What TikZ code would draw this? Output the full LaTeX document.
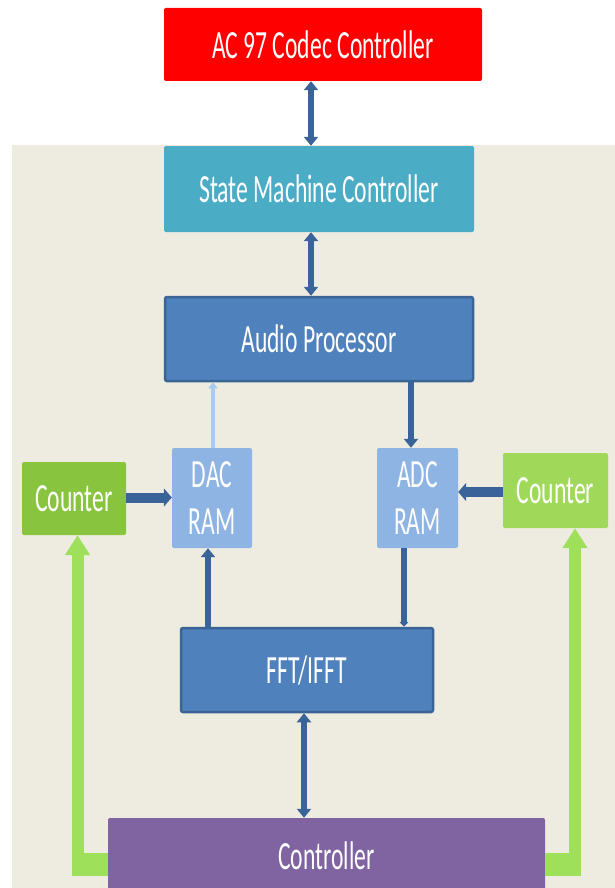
\documentclass[tikz,border=0pt]{standalone}
\usepackage{fontspec}
\newfontfamily\dfont{Carlito}[FakeStretch=0.59]
\usetikzlibrary{arrows.meta}
\definecolor{beige}{HTML}{EEECE1}
\definecolor{redc}{HTML}{FF0000}
\definecolor{smcc}{HTML}{4BACC6}
\definecolor{apc}{HTML}{4F81BD}
\definecolor{apb}{HTML}{3A6495}
\definecolor{ramc}{HTML}{8DB4E2}
\definecolor{cntl}{HTML}{88C43E}
\definecolor{cntr}{HTML}{A0D95A}
\definecolor{gline}{HTML}{9EE05A}
\definecolor{ctrlc}{HTML}{8064A2}
\definecolor{arrc}{HTML}{3A6399}
\definecolor{lblue}{HTML}{A8CAF0}
\tikzset{
  blk/.style={rectangle, inner sep=0pt, rounded corners=2pt, text=white,
    font=\dfont\fontsize{40}{47}\selectfont, align=center},
  barrow/.style={draw=arrc, line width=5.5pt},
  bhead/.style={-{Triangle[width=14pt,length=9pt]}},
  bboth/.style={{Triangle[width=14pt,length=9pt]}-{Triangle[width=14pt,length=9pt]}},
  harrow/.style={draw=arrc, line width=10pt, -{Triangle[width=18pt,length=8pt]}},
  garrow/.style={draw=gline, line width=12pt, -{Triangle[width=24pt,length=20pt]}},
}
\begin{document}
\begin{tikzpicture}[x=1pt,y=-1pt]
\useasboundingbox (0,0) rectangle (615,888);
\clip (0,0) rectangle (615,888);
\fill[white] (0,0) rectangle (615,888);
\fill[beige] (12,145) rectangle (615,888);

% nodes
\node[blk, fill=redc, minimum width=318pt, minimum height=73pt] (ac) at (323,44.5) {AC 97 Codec Controller};
\node[blk, fill=smcc, minimum width=310pt, minimum height=86pt] (smc) at (319,189) {State Machine Controller};
\node[blk, fill=apc, draw=apb, line width=2.5pt, minimum width=308pt, minimum height=84pt] (ap) at (319,339) {Audio Processor};
\node[blk, fill=ramc, minimum width=80pt, minimum height=100pt] (dac) at (212,498) {DAC\\RAM};
\node[blk, fill=ramc, minimum width=81pt, minimum height=100pt] (adc) at (417.5,498) {ADC\\RAM};
\node[blk, fill=cntl, minimum width=104pt, minimum height=73pt] (cl) at (74,498.5) {Counter};
\node[blk, fill=cntr, minimum width=105pt, minimum height=75pt] (cr) at (555.5,490.5) {Counter};
\node[blk, fill=apc, draw=apb, line width=2.5pt, minimum width=252pt, minimum height=84pt] (fft) at (307,670) {FFT/IFFT};
\node[blk, fill=ctrlc, minimum width=437pt, minimum height=76pt] (ctrl) at (326.5,856) {Controller};

% helper coordinates
\coordinate (x1) at (311,0);
\coordinate (xd) at (213,0);
\coordinate (xa) at (411,0);
\coordinate (xf) at (208,0);
\coordinate (xg) at (404,0);
\coordinate (xc) at (304,0);
\coordinate (yl) at (0,497.5);
\coordinate (yr) at (0,492);
\coordinate (gy) at (0,864.5);
\coordinate (gxl) at (77.5,0);
\coordinate (gxr) at (575,0);

% blue connectors
\draw[barrow, bboth] (ac.south -| x1) -- (smc.north -| x1);
\draw[barrow, bboth] (smc.south -| x1) -- (ap.north -| x1);
\draw[draw=lblue, line width=4pt, -{Triangle[width=9pt,length=6pt]}] (dac.north -| xd) -- (ap.south -| xd);
\draw[barrow, bhead] (ap.south -| xa) -- (adc.north -| xa);
\draw[harrow] (cl.east |- yl) -- (dac.west |- yl);
\draw[harrow] (cr.west |- yr) -- (adc.east |- yr);
\draw[barrow, bhead] (fft.north -| xf) -- (dac.south -| xf);
\draw[barrow, -{Triangle[width=9pt,length=5pt]}] (adc.south -| xg) -- (fft.north -| xg);
\draw[barrow, bboth] (fft.south -| xc) -- (ctrl.north -| xc);

% green connectors
\fill[gline] (71.5,853) rectangle (ctrl.west |- {0,876});
\fill[gline] (ctrl.east |- {0,853}) rectangle (581,876);
\draw[garrow] (ctrl.west |- gy) -| (cl.south -| gxl);
\draw[garrow] (ctrl.east |- gy) -| (cr.south -| gxr);
\end{tikzpicture}
\end{document}
